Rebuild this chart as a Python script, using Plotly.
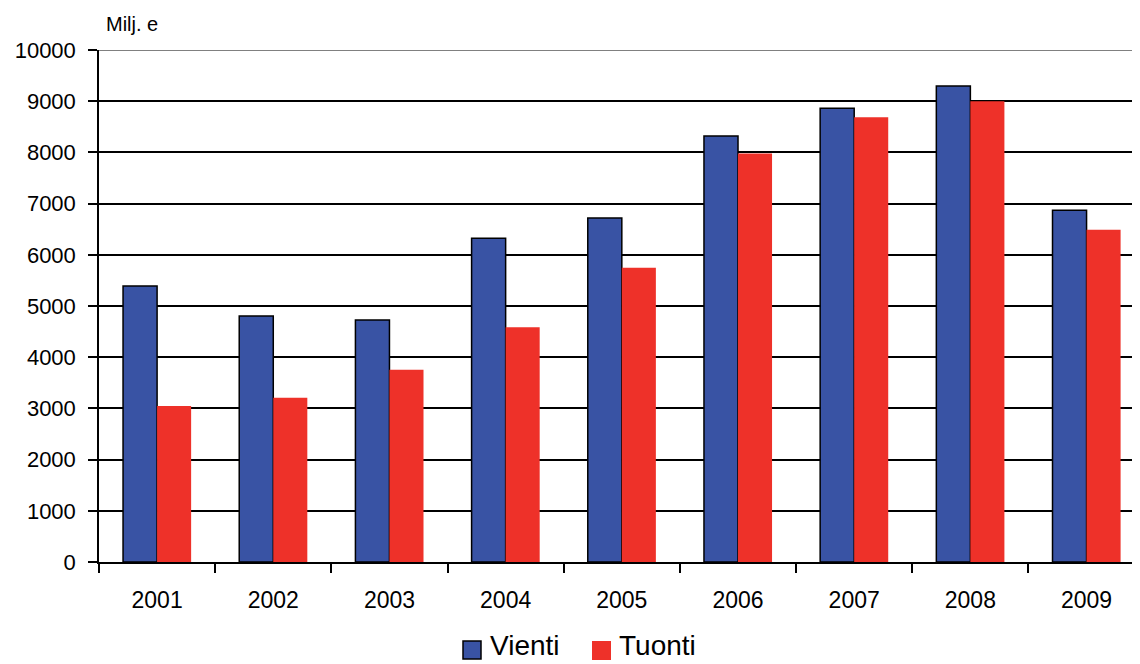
import plotly.graph_objects as go

years = ["2001", "2002", "2003", "2004", "2005", "2006", "2007", "2008", "2009"]
vienti = [5390, 4805, 4727, 6322, 6720, 8320, 8860, 9297, 6868]
tuonti = [3047, 3210, 3756, 4583, 5748, 7980, 8685, 9000, 6490]
y_ticks = [0, 1000, 2000, 3000, 4000, 5000, 6000, 7000, 8000, 9000, 10000]
y_labels = [str(v) for v in y_ticks]

BLUE = "#3953A4"
RED = "#EE3129"
FONT = "Liberation Sans, Arial, sans-serif"

# the page body adds an 8px offset; figure sized to fill the rest of the window
OFF = 8
W, H = 1140 - OFF, 664 - OFF
PL, PR, PT, PB = 99, 1140, 50, 562          # plot area in window pixels
L, R, T, B = PL - OFF, 1140 - PR, PT - OFF, 664 - PB
pw, ph = PR - PL, PB - PT


def px(x):
    return (x - PL) / pw


def py(y):
    return (PB - y) / ph


fig = go.Figure()
fig.add_trace(go.Bar(x=years, y=vienti, name="Vienti",
                     marker=dict(color=BLUE, line=dict(color="#000000", width=1.5))))
fig.add_trace(go.Bar(x=years, y=tuonti, name="Tuonti",
                     marker=dict(color=RED, line=dict(color=RED, width=0))))

shapes = [
    dict(type="line", xref="paper", yref="y", x0=0, x1=1, y0=10000, y1=10000,
         line=dict(color="#808080", width=2)),
    # custom legend squares
    dict(type="rect", xref="paper", yref="paper", x0=px(463), x1=px(481), y0=py(659), y1=py(641),
         fillcolor=BLUE, line=dict(color="#000000", width=1.5)),
    dict(type="rect", xref="paper", yref="paper", x0=px(592), x1=px(611), y0=py(660), y1=py(641),
         fillcolor=RED, line=dict(width=0)),
]

annotations = [
    dict(text="Milj. e", x=px(104), xref="paper", y=py(11), yref="paper",
         xanchor="left", yanchor="top", showarrow=False, font=dict(size=20)),
    dict(text="Vienti", x=px(488), xref="paper", y=py(663), yref="paper",
         xanchor="left", yanchor="bottom", showarrow=False, font=dict(size=28)),
    dict(text="Tuonti", x=px(617), xref="paper", y=py(663), yref="paper",
         xanchor="left", yanchor="bottom", showarrow=False, font=dict(size=28)),
]

fig.update_layout(
    width=W, height=H,
    margin=dict(l=L, r=R, t=T, b=B, pad=0),
    paper_bgcolor="white", plot_bgcolor="white",
    barmode="group", bargap=0.414, bargroupgap=0,
    font=dict(family=FONT, size=22, color="#000000"),
    showlegend=False,
    shapes=shapes,
    annotations=annotations,
)

fig.update_xaxes(
    type="category", range=[-0.5, 8.46],
    showline=True, linecolor="#000000", linewidth=1.5,
    ticks="outside", tickson="boundaries", ticklen=9, tickwidth=1.5, tickcolor="#000000",
    showgrid=False, tickfont=dict(size=23), ticklabelstandoff=17,
)
fig.update_yaxes(
    range=[0, 10000], tickvals=y_ticks, ticktext=y_labels,
    showline=True, linecolor="#000000", linewidth=1.5,
    ticks="outside", ticklen=9, tickwidth=1.5, tickcolor="#000000",
    showgrid=True, gridcolor="#000000", gridwidth=1.5,
    zeroline=False, tickfont=dict(size=22), ticklabelstandoff=8,
)

fig.write_html("out.html")
